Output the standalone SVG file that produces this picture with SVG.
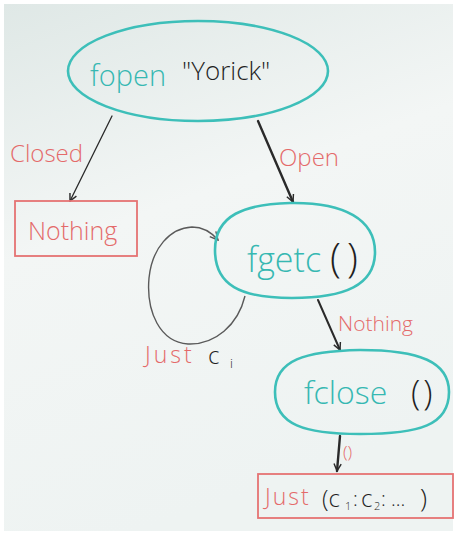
<svg xmlns="http://www.w3.org/2000/svg" width="457" height="535" viewBox="0 0 457 535">
<defs>
<linearGradient id="bg" x1="0" y1="0" x2="0.3" y2="1">
<stop offset="0" stop-color="#dfe8e6"/>
<stop offset="0.45" stop-color="#f3f6f5"/>
<stop offset="1" stop-color="#eef3f2"/>
</linearGradient>
<marker id="ah" viewBox="0 0 10 10" refX="9" refY="5" markerWidth="9" markerHeight="9" orient="auto" markerUnits="userSpaceOnUse">
<path d="M1,1 L9,5 L1,9" fill="none" stroke="#2a2a2a" stroke-width="1.6"/>
</marker>
<marker id="ahg" viewBox="0 0 10 10" refX="9" refY="5" markerWidth="10" markerHeight="10" orient="auto" markerUnits="userSpaceOnUse">
<path d="M1,1 L9,5 L1,9" fill="none" stroke="#555" stroke-width="1.4"/>
</marker>
</defs>
<style>
.teal{fill:none;stroke:#3dbfb9;stroke-width:2.6}
.box{fill:none;stroke:#e57373;stroke-width:1.8}
.t{font-family:"Open Sans","DejaVu Sans",sans-serif;font-weight:300}
.tl{fill:#36b8b2}
.bk{fill:#1f1f1f}
.rd{fill:#e46a6a}
.edge{fill:none;stroke:#2a2a2a;stroke-linecap:round}
</style>
<rect x="0" y="0" width="457" height="535" fill="#ffffff"/>
<rect x="4" y="4" width="449" height="527" fill="url(#bg)"/>

<g id="connectors">
<path class="edge" d="M112,116 L70,201" stroke-width="1.3" marker-end="url(#ah)"/>
<path class="edge" d="M258,121 L293,202" stroke-width="2.4" marker-end="url(#ah)"/>
<path d="M245,296 C238,325 215,345 188,344 C160,342 146,312 149,278 C152,248 170,228 192,227 C203,227 212,233 218,240" fill="none" stroke="#5a5a5a" stroke-width="1.4" marker-end="url(#ahg)"/>
<path class="edge" d="M318,300 L340,350" stroke-width="2" marker-end="url(#ah)"/>
<path class="edge" d="M340,436 L337,471" stroke-width="2.4" marker-end="url(#ah)"/>
<text class="t rd" x="10" y="162" font-size="24">Closed</text>
<text class="t rd" x="279" y="166" font-size="24">Open</text>
<text class="t rd" x="145" y="363" font-size="23" letter-spacing="3">Just</text>
<text class="t bk" x="208" y="364" font-size="24">c</text>
<text class="t bk" x="230" y="368" font-size="13">i</text>
<text class="t rd" x="338" y="331" font-size="21">Nothing</text>
<text class="t rd" x="343" y="458" font-size="17">()</text>
</g>

<g id="fopen">
<ellipse class="teal" cx="198" cy="71" rx="130" ry="50"/>
<text class="t tl" x="90" y="86" font-size="29">fopen</text>
<text class="t bk" x="182" y="80" font-size="26">"Yorick"</text>
</g>

<g id="nothing1">
<rect class="box" x="15" y="201" width="122" height="55"/>
<text class="t rd" x="28" y="240" font-size="25">Nothing</text>
</g>

<g id="fgetc">
<path class="teal" d="M215,250 C215,215 245,204 290,203 C345,202 375,220 375,252 C375,285 345,298 292,298 C240,298 215,285 215,250 Z"/>
<text class="t tl" x="247" y="272" font-size="34">fgetc</text>
<text class="t bk" x="330" y="272" font-size="40" letter-spacing="6">()</text>
</g>

<g id="fclose">
<path class="teal" d="M275,392 C275,360 305,351 360,350 C420,350 449,362 449,392 C449,425 420,434 360,434 C305,434 275,425 275,392 Z"/>
<text class="t tl" x="304" y="404" font-size="32">fclose</text>
<text class="t bk" x="411" y="405" font-size="34" letter-spacing="3">()</text>
</g>

<g id="just">
<rect class="box" x="258" y="474" width="195" height="44"/>
<text class="t rd" x="265" y="505" font-size="23" letter-spacing="2">Just</text>
<text class="t bk" x="322" y="507" font-size="24">(c</text>
<text class="t bk" x="345" y="510" font-size="11">1</text>
<text class="t bk" x="353" y="506" font-size="20">:</text>
<text class="t bk" x="361" y="507" font-size="24">c</text>
<text class="t bk" x="374" y="510" font-size="11">2</text>
<text class="t bk" x="381" y="506" font-size="20">: ...</text>
<text class="t bk" x="420" y="507" font-size="26">)</text>
</g>
</svg>
